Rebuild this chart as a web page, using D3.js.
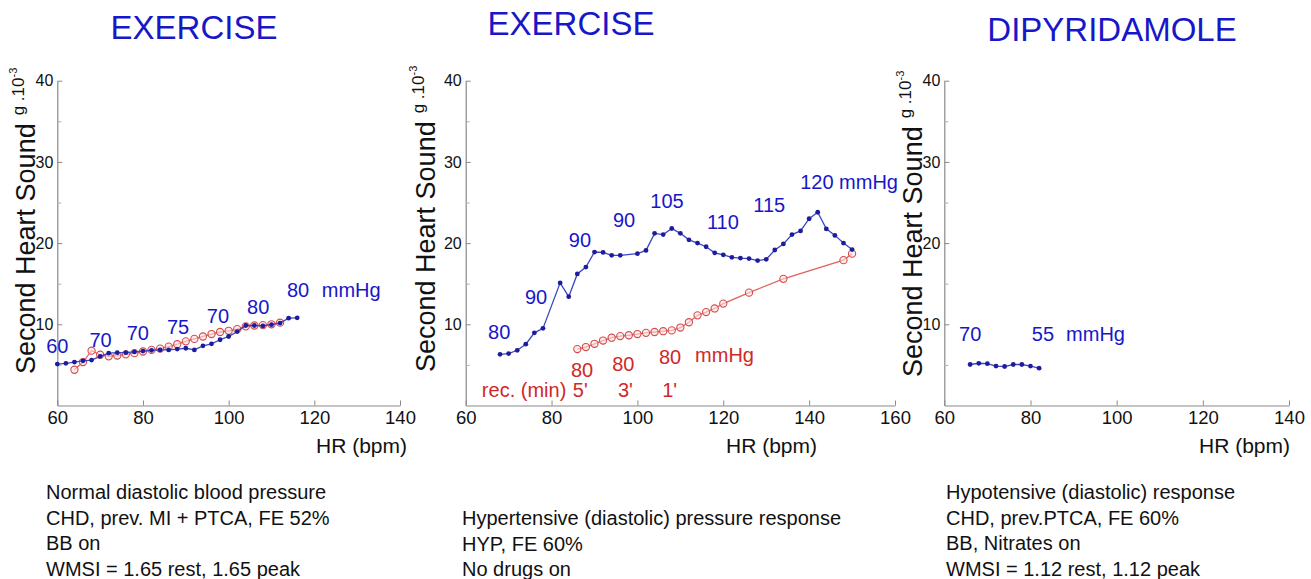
<!DOCTYPE html>
<html>
<head>
<meta charset="utf-8">
<script src="https://cdn.jsdelivr.net/npm/d3@7/dist/d3.min.js"></script>
<style>
  html, body { margin: 0; padding: 0; background: #fff; }
  svg { display: block; font-family: "Liberation Sans", Arial, sans-serif; }
</style>
</head>
<body>
<svg id="chart" width="1311" height="579"></svg>
<script>
// ---------------- DATA ----------------
const titles = ["EXERCISE", "EXERCISE", "DIPYRIDAMOLE"];
const yTicks = [10, 20, 30, 40];
const yMinorTicks = [5, 15, 25, 35];
const xTicks1 = [60, 80, 100, 120, 140];
const xTicks2 = [60, 80, 100, 120, 140, 160];
const xTicks3 = [60, 80, 100, 120, 140];
const yLabel = "Second Heart Sound";
const yUnit = "g .10";
const yUnitExp = "-3";
const xLabel = "HR (bpm)";

// Panel 1 – exercise, normal diastolic BP
const p1BlueHR = [60,62,64,66,68,70,72,74,76,78,80,82,84,86,88,90,92,94,96,98,100,102,104,106,108,110,112,114,116];
const p1BlueS2 = [5.1,5.2,5.35,5.5,5.6,6.05,6.45,6.5,6.5,6.6,6.7,6.8,6.85,6.85,6.95,7.05,6.85,7.35,7.6,8.1,8.5,9.1,9.85,9.85,9.8,9.95,10.15,10.75,10.8];
const p1RedHR = [64,66,68,70,72,74,76,78,80,82,84,86,88,90,92,94,96,98,100,102,104,106,108,110,112];
const p1RedS2 = [4.4,5.35,6.75,6.25,6.05,6.15,6.3,6.45,6.65,6.85,7.0,7.25,7.55,7.9,8.2,8.5,8.8,9.05,9.2,9.4,9.75,9.85,9.9,10.0,10.2];
const p1BlueLabelText = ["60","70","70","75","70","80","80","mmHg"];
const p1BlueLabelHR = [60,70.1,78.8,88.2,97.5,106.9,116.2,128.6];
const p1BlueLabelS2 = [6.5,7.2,8.05,8.8,10.15,11.25,13.4,13.4];

// Panel 2 – exercise, hypertensive response
const p2BlueHR = [68,70,72,74,76,78,82,84,86,88,90,92,94,96,100,102,104,106,108,110,112,114,116,118,120,122,124,126,128,130,132,134,136,138,140,142,144,146,148,150];
const p2BlueS2 = [6.3,6.4,6.8,7.55,8.95,9.5,15.1,13.4,16.2,17.05,18.9,18.85,18.5,18.5,18.7,19.1,21.2,21.05,21.8,21.2,20.4,20.0,19.55,18.8,18.55,18.25,18.15,18.1,17.85,18.0,19.15,19.9,21.05,21.5,23.0,23.8,21.75,20.95,20.0,19.2];
const p2RedHR = [86,88,90,92,94,96,98,100,102,104,106,108,110,112,114,116,118,120,126,134,148,150];
const p2RedS2 = [6.95,7.2,7.6,8.0,8.35,8.55,8.65,8.8,8.95,9.05,9.15,9.25,9.6,10.25,11.1,11.5,11.95,12.55,13.9,15.6,17.9,18.7];
const p2BlueLabelText = ["80","90","90","90","105","110","115","120 mmHg"];
const p2BlueLabelHR = [67.8,76.4,86.6,96.9,106.9,119.9,130.7,149.3];
const p2BlueLabelS2 = [8.15,12.5,19.5,22.0,24.3,21.7,23.8,26.7];
const p2RedLabelText = ["80","80","80","mmHg","rec. (min)","5'","3'","1'"];
const p2RedLabelHR = [87.1,96.7,107.6,120.3,73.6,86.7,97.2,107.5];
const p2RedLabelS2 = [3.5,4.3,5.1,5.3,1.05,1.05,1.05,1.05];

// Panel 3 – dipyridamole
const p3BlueHR = [66,68,70,72,74,76,78,80,82];
const p3BlueS2 = [5.05,5.2,5.15,4.85,4.8,5.05,5.05,4.85,4.6];
const p3BlueLabelText = ["70","55","mmHg"];
const p3BlueLabelHR = [66,82.9,95.1];
const p3BlueLabelS2 = [8.0,8.0,8.0];

const notes1 = ["Normal diastolic blood pressure","CHD, prev. MI + PTCA, FE 52%","BB on","WMSI = 1.65 rest, 1.65 peak"];
const notes2 = ["Hypertensive (diastolic) pressure response","HYP, FE 60%","No drugs on"];
const notes3 = ["Hypotensive (diastolic) response","CHD, prev.PTCA, FE 60%","BB, Nitrates on","WMSI = 1.12 rest, 1.12 peak"];

// ---------------- STYLE / LAYOUT ----------------
const BLUE_TEXT = "#1717c9";
const BLUE_LINE = "#3a46c4";
const BLUE_DOT = "#1c1c9c";
const RED_TEXT = "#d02828";
const RED_LINE = "#e2615f";
const RED_DOT = "#d44c4c";
const AXIS = "#8a8a8a";

const svg = d3.select("#chart");
const yTop = 80.7, yBottom = 405.5;

const layout = [
  { x0: 57.3, x1: 400, dom: [60,140], ticks: xTicks1, title: titles[0], titleX: 194, titleY: 39,
    yLabX: 35, yLabY: 374, xLabRight: 407, notes: notes1, noteX: 46, noteY: 499,
    series: [
      { hr: p1RedHR, s2: p1RedS2, kind: "red" },
      { hr: p1BlueHR, s2: p1BlueS2, kind: "blue" }
    ],
    labels: [{ t: p1BlueLabelText, hr: p1BlueLabelHR, s2: p1BlueLabelS2, color: BLUE_TEXT }]
  },
  { x0: 465.7, x1: 895, dom: [60,160], ticks: xTicks2, title: titles[1], titleX: 571, titleY: 35,
    yLabX: 435, yLabY: 372, xLabRight: 817, notes: notes2, noteX: 462, noteY: 525,
    series: [
      { hr: p2RedHR, s2: p2RedS2, kind: "red" },
      { hr: p2BlueHR, s2: p2BlueS2, kind: "blue" }
    ],
    labels: [
      { t: p2BlueLabelText, hr: p2BlueLabelHR, s2: p2BlueLabelS2, color: BLUE_TEXT },
      { t: p2RedLabelText, hr: p2RedLabelHR, s2: p2RedLabelS2, color: RED_TEXT }
    ]
  },
  { x0: 944.3, x1: 1289, dom: [60,140], ticks: xTicks3, title: titles[2], titleX: 1112, titleY: 41,
    yLabX: 922, yLabY: 377, xLabRight: 1290, notes: notes3, noteX: 946, noteY: 499,
    series: [
      { hr: p3BlueHR, s2: p3BlueS2, kind: "blue" }
    ],
    labels: [{ t: p3BlueLabelText, hr: p3BlueLabelHR, s2: p3BlueLabelS2, color: BLUE_TEXT }]
  }
];

const y = d3.scaleLinear().domain([0, 40]).range([yBottom, yTop]);

layout.forEach(p => {
  const x = d3.scaleLinear().domain(p.dom).range([p.x0, p.x1]);
  const g = svg.append("g");

  // title
  g.append("text").attr("x", p.titleX).attr("y", p.titleY)
    .attr("text-anchor", "middle").attr("font-size", 33).attr("fill", BLUE_TEXT)
    .text(p.title);

  // x axis
  const xAxis = d3.axisBottom(x).tickValues(p.ticks).tickSizeInner(-5).tickSizeOuter(0).tickPadding(5);
  const gx = g.append("g").attr("transform", `translate(0,${yBottom})`).call(xAxis);
  gx.select(".domain").attr("stroke", AXIS).attr("stroke-width", 1.2);
  gx.selectAll(".tick line").attr("stroke", AXIS);
  gx.selectAll(".tick text").attr("font-size", 18.5).attr("fill", "#111")
    .attr("font-family", '"Liberation Sans", Arial, sans-serif');

  // y axis
  const yAxis = d3.axisLeft(y).tickValues(yTicks).tickSizeInner(-5).tickSizeOuter(0).tickPadding(4);
  const gy = g.append("g").attr("transform", `translate(${p.x0},0)`).call(yAxis);
  gy.select(".domain").attr("stroke", AXIS).attr("stroke-width", 1.2);
  gy.selectAll(".tick line").attr("stroke", AXIS);
  gy.selectAll(".tick text").attr("font-size", 16).attr("fill", "#111")
    .attr("font-family", '"Liberation Sans", Arial, sans-serif');
  const yMinor = d3.axisLeft(y).tickValues(yMinorTicks).tickSizeInner(-4).tickSizeOuter(0).tickFormat("");
  const gym = g.append("g").attr("transform", `translate(${p.x0},0)`).call(yMinor);
  gym.select(".domain").remove();
  gym.selectAll(".tick line").attr("stroke", "#b0b0b0");

  // y label
  const yl = g.append("text")
    .attr("transform", `translate(${p.yLabX},${p.yLabY}) rotate(-90)`)
    .attr("fill", "#111");
  yl.append("tspan").attr("font-size", 27).text(yLabel);
  yl.append("tspan").attr("font-size", 17).attr("dy", -11).attr("dx", 8).text(yUnit);
  yl.append("tspan").attr("font-size", 11).attr("dy", -7).text(yUnitExp);

  // x label
  g.append("text").attr("x", p.xLabRight).attr("y", 453)
    .attr("text-anchor", "end").attr("font-size", 21).attr("fill", "#111")
    .text(xLabel);

  // series
  p.series.forEach(s => {
    const pts = s.hr.map((h, i) => [h, s.s2[i]]);
    const line = d3.line().x(d => x(d[0])).y(d => y(d[1]));
    const isRed = s.kind === "red";
    g.append("path").datum(pts).attr("d", line).attr("fill", "none")
      .attr("stroke", isRed ? RED_LINE : BLUE_LINE).attr("stroke-width", 1.3);
    if (isRed) {
      g.selectAll(null).data(pts).join("circle")
        .attr("cx", d => x(d[0])).attr("cy", d => y(d[1])).attr("r", 3.6)
        .attr("fill", "#fbe3e3").attr("fill-opacity", 0.6)
        .attr("stroke", RED_DOT).attr("stroke-width", 1.1);
    } else {
      g.selectAll(null).data(pts).join("circle")
        .attr("cx", d => x(d[0])).attr("cy", d => y(d[1])).attr("r", 2.4)
        .attr("fill", BLUE_DOT);
    }
  });

  // annotations
  p.labels.forEach(L => {
    L.t.forEach((t, i) => {
      g.append("text").attr("x", x(L.hr[i])).attr("y", y(L.s2[i]))
        .attr("text-anchor", "middle").attr("font-size", 20).attr("fill", L.color)
        .text(t);
    });
  });

  // notes
  p.notes.forEach((t, i) => {
    g.append("text").attr("x", p.noteX).attr("y", p.noteY + i * 25.5)
      .attr("font-size", 20).attr("fill", "#111").text(t);
  });
});
</script>
</body>
</html>
